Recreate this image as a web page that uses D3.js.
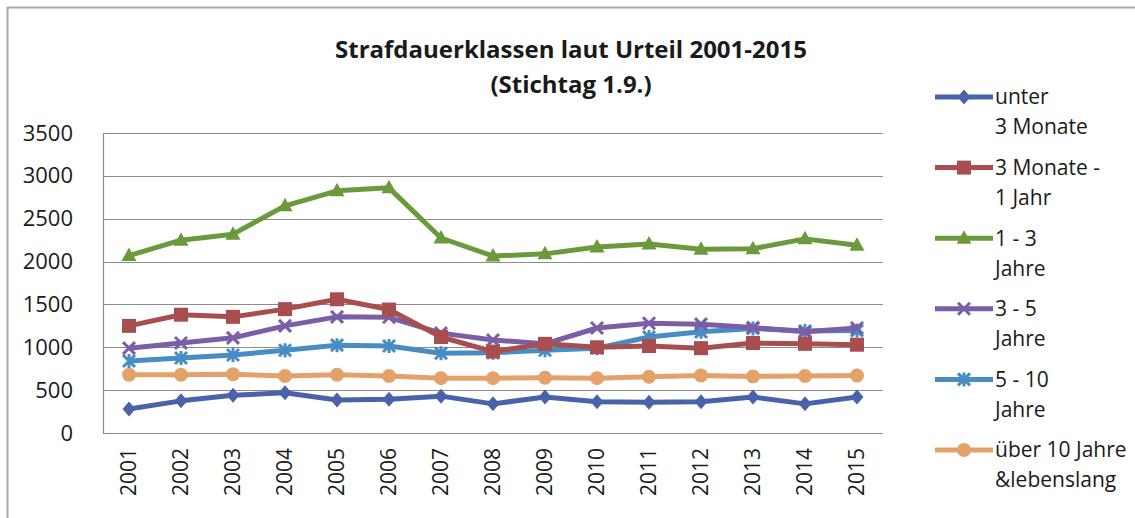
<!DOCTYPE html>
<html>
<head>
<meta charset="utf-8">
<script src="https://cdn.jsdelivr.net/npm/d3@7"></script>
<style>
body { margin: 0; background: #fff; }
text { font-family: "Open Sans", "Noto Sans", sans-serif; }
</style>
</head>
<body>
<script>
var width = 1135;
var height = 518;

var years = ["2001", "2002", "2003", "2004", "2005", "2006", "2007", "2008", "2009", "2010", "2011", "2012", "2013", "2014", "2015"];
var y_ticks = [0, 500, 1000, 1500, 2000, 2500, 3000, 3500];

var unter_3_monate = [280, 375, 440, 470, 385, 395, 430, 340, 420, 365, 360, 365, 420, 340, 420];
var monate_3_bis_1_jahr = [1250, 1380, 1355, 1445, 1560, 1440, 1120, 950, 1040, 1000, 1015, 990, 1050, 1040, 1030];
var jahre_1_bis_3 = [2070, 2250, 2320, 2650, 2825, 2860, 2275, 2065, 2090, 2170, 2205, 2145, 2150, 2265, 2190];
var jahre_3_bis_5 = [990, 1050, 1110, 1250, 1355, 1350, 1165, 1085, 1040, 1225, 1280, 1270, 1230, 1180, 1225];
var jahre_5_bis_10 = [840, 875, 910, 965, 1025, 1015, 930, 935, 965, 990, 1120, 1180, 1220, 1190, 1195];
var ueber_10_jahre = [680, 680, 685, 665, 680, 665, 640, 640, 645, 640, 655, 670, 660, 665, 670];

var series = [
    { lines: ["unter", "3 Monate"], values: unter_3_monate, color: "#4a62aa", marker: "diamond" },
    { lines: ["3 Monate -", "1 Jahr"], values: monate_3_bis_1_jahr, color: "#a94e4e", marker: "square" },
    { lines: ["1 - 3", "Jahre"], values: jahre_1_bis_3, color: "#6b9a3c", marker: "triangle" },
    { lines: ["3 - 5", "Jahre"], values: jahre_3_bis_5, color: "#7a5ea6", marker: "x" },
    { lines: ["5 - 10", "Jahre"], values: jahre_5_bis_10, color: "#478cc2", marker: "star" },
    { lines: ["über 10 Jahre", "&lebenslang"], values: ueber_10_jahre, color: "#e3a26a", marker: "circle" }
];

var plot_left = 103;
var plot_right = 883;
var plot_top = 133;
var plot_bottom = 433;

var svg = d3.select("body")
    .append("svg")
    .attr("width", width)
    .attr("height", height);

// outer frame (only top and left edges show in the scan)
svg.append("line").attr("x1", 7).attr("y1", 7.5).attr("x2", width).attr("y2", 7.5)
    .attr("stroke", "#a8a8a8").attr("stroke-width", 2);
svg.append("line").attr("x1", 7.5).attr("y1", 7).attr("x2", 7.5).attr("y2", height)
    .attr("stroke", "#a8a8a8").attr("stroke-width", 2);

var x = d3.scaleBand()
    .domain(years)
    .range([plot_left, plot_right]);

var y = d3.scaleLinear()
    .domain([0, 3500])
    .range([plot_bottom, plot_top]);

// gridlines
svg.append("g")
    .selectAll("line")
    .data(y_ticks)
    .enter()
    .append("line")
    .attr("x1", plot_left)
    .attr("x2", plot_right)
    .attr("y1", function(d) { return Math.round(y(d)) + 0.5; })
    .attr("y2", function(d) { return Math.round(y(d)) + 0.5; })
    .attr("stroke", "#8c8c8c")
    .attr("stroke-width", 1.2);

svg.append("line")
    .attr("x1", plot_left + 0.5).attr("x2", plot_left + 0.5)
    .attr("y1", plot_top).attr("y2", plot_bottom)
    .attr("stroke", "#8c8c8c")
    .attr("stroke-width", 1.2);

// y axis labels
var y_axis = svg.append("g")
    .attr("transform", "translate(" + (plot_left - 30) + ",0)")
    .call(d3.axisLeft(y).tickValues(y_ticks).tickFormat(d3.format("d")).tickSize(0).tickPadding(0));
y_axis.select(".domain").remove();
y_axis.selectAll("text")
    .attr("font-family", "'Open Sans', sans-serif")
    .attr("font-size", "22px")
    .attr("fill", "#1a1a1a");

// x axis labels, rotated
var x_axis = svg.append("g")
    .attr("transform", "translate(0," + (plot_bottom + 13) + ")")
    .call(d3.axisBottom(x).tickSize(0).tickPadding(0));
x_axis.select(".domain").remove();
x_axis.selectAll("text")
    .attr("font-family", "'DejaVu Sans', sans-serif")
    .attr("font-size", "21px")
    .attr("fill", "#1a1a1a")
    .attr("transform", "rotate(-90)")
    .attr("text-anchor", "end")
    .attr("dy", "0.35em")
    .attr("x", -2)
    .attr("y", 0);

var line = d3.line()
    .x(function(d, i) { return x(years[i]) + x.bandwidth() / 2; })
    .y(function(d) { return y(d); });

function draw_marker(g, type, color, cx, cy) {
    if (type == "diamond") {
        g.append("path").attr("d", "M" + cx + "," + (cy - 7.5) + "L" + (cx + 6.5) + "," + cy + "L" + cx + "," + (cy + 7.5) + "L" + (cx - 6.5) + "," + cy + "Z")
            .attr("fill", color);
    } else if (type == "square") {
        g.append("rect").attr("x", cx - 7).attr("y", cy - 7).attr("width", 14).attr("height", 14)
            .attr("fill", color);
    } else if (type == "triangle") {
        g.append("path").attr("d", "M" + cx + "," + (cy - 8) + "L" + (cx + 7.5) + "," + (cy + 5.5) + "L" + (cx - 7.5) + "," + (cy + 5.5) + "Z")
            .attr("fill", color);
    } else if (type == "x") {
        g.append("path").attr("d", "M" + (cx - 6) + "," + (cy - 6) + "L" + (cx + 6) + "," + (cy + 6) + "M" + (cx + 6) + "," + (cy - 6) + "L" + (cx - 6) + "," + (cy + 6))
            .attr("stroke", color).attr("stroke-width", 3);
    } else if (type == "star") {
        g.append("path").attr("d", "M" + (cx - 6) + "," + (cy - 6) + "L" + (cx + 6) + "," + (cy + 6) + "M" + (cx + 6) + "," + (cy - 6) + "L" + (cx - 6) + "," + (cy + 6) + "M" + cx + "," + (cy - 7) + "L" + cx + "," + (cy + 7))
            .attr("stroke", color).attr("stroke-width", 3);
    } else {
        g.append("circle").attr("cx", cx).attr("cy", cy).attr("r", 7).attr("fill", color);
    }
}

// draw from last series to first so the early ones end up on top like in the original
series.slice().reverse().forEach(function(s) {
    var g = svg.append("g");
    g.append("path")
        .datum(s.values)
        .attr("d", line)
        .attr("fill", "none")
        .attr("stroke", s.color)
        .attr("stroke-width", 5)
        .attr("stroke-linejoin", "round");
    s.values.forEach(function(v, i) {
        draw_marker(g, s.marker, s.color, x(years[i]) + x.bandwidth() / 2, y(v));
    });
});

// title
var title = svg.append("text")
    .attr("x", 571)
    .attr("y", 58)
    .attr("text-anchor", "middle")
    .attr("font-family", "'Open Sans', sans-serif")
    .attr("font-weight", "bold")
    .attr("font-size", "24px")
    .attr("fill", "#1a1a1a");
title.append("tspan").attr("x", 571).attr("dy", 0).text("Strafdauerklassen laut Urteil 2001-2015");
title.append("tspan").attr("x", 571).attr("dy", 35).text("(Stichtag 1.9.)");

// legend
var legend = svg.append("g")
    .selectAll("g")
    .data(series)
    .enter()
    .append("g")
    .attr("transform", function(d, i) { return "translate(935," + (97 + i * 70.6) + ")"; });

legend.append("line")
    .attr("x1", 0).attr("x2", 58)
    .attr("y1", 0).attr("y2", 0)
    .attr("stroke", function(d) { return d.color; })
    .attr("stroke-width", 5);

legend.each(function(d) {
    draw_marker(d3.select(this), d.marker, d.color, 29, 0);
});

legend.append("text")
    .attr("x", 60)
    .attr("y", 0)
    .attr("font-family", "'Open Sans', sans-serif")
    .attr("font-size", "21px")
    .attr("fill", "#1a1a1a")
    .selectAll("tspan")
    .data(function(d) { return d.lines; })
    .enter()
    .append("tspan")
    .attr("x", 60)
    .attr("y", function(d, i) { return i * 30; })
    .attr("dy", "0.35em")
    .text(function(d) { return d; });
</script>
</body>
</html>
